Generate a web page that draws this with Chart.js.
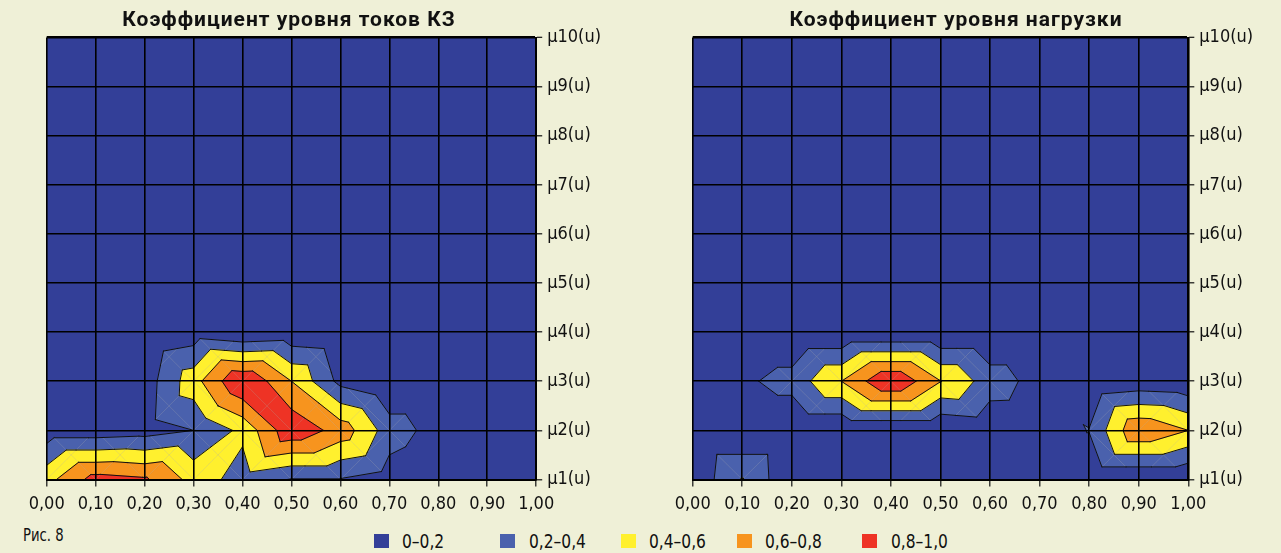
<!DOCTYPE html>
<html>
<head>
<meta charset="utf-8">
<script src="https://cdn.jsdelivr.net/npm/chart.js@4.4.1/dist/chart.umd.min.js"></script>
<style>
  html, body { margin: 0; padding: 0; background: #eff0d7; }
  #wrap { position: relative; width: 1281px; height: 553px; overflow: hidden; background: #eff0d7;
          font-family: "Liberation Sans Narrow", "DejaVu Sans Condensed", Roboto, sans-serif; color: #111; }
  canvas { position: absolute; top: 0; }
  #c1 { left: 0; }
  #c2 { left: 640px; }
  .title { position: absolute; top: 9px; width: 400px; text-align: center; font: bold 21px Roboto, sans-serif;
           letter-spacing: 1px; line-height: 21px; color: #111; white-space: nowrap; }
  #fig { position: absolute; left: 23px; top: 527px; font-size: 17.5px; line-height: 17.5px;
         transform: scaleX(0.84); transform-origin: left center; white-space: nowrap; }
  .lg-box { position: absolute; top: 533.5px; width: 15px; height: 14px; }
  .lg-text { position: absolute; top: 531px; font-size: 20px; line-height: 20px; white-space: nowrap;
             transform: scaleX(0.86); transform-origin: left center; }
</style>
</head>
<body>
<div id="wrap">
  <canvas id="c1" width="640" height="520"></canvas>
  <canvas id="c2" width="641" height="520"></canvas>
  <div class="title" style="left:89px">Коэффициент уровня токов КЗ</div>
  <div class="title" style="left:756px">Коэффициент уровня нагрузки</div>
  <div id="fig">Рис. 8</div>
  <div id="legend"></div>
</div>
<script>
// Axis grid: x positions and membership-function indices
const xValues = [0, 0.1, 0.2, 0.3, 0.4, 0.5, 0.6, 0.7, 0.8, 0.9, 1.0];
const muValues = [1, 2, 3, 4, 5, 6, 7, 8, 9, 10];

// Contour levels and colour bands
const levels = [0.2, 0.4, 0.6, 0.8];
const bandLabels = ['0–0,2', '0,2–0,4', '0,4–0,6', '0,6–0,8', '0,8–1,0'];
const bandColors = ['#333f98', '#4a61ad', '#fff02e', '#f7941e', '#ee3325'];
const legendX = [373.5, 500, 620.5, 736.7, 862.4];

// Коэффициент уровня токов КЗ: one row per μ level, one value per x
const kzMu1  = [0.53, 0.88, 0.83, 0.53, 0.30, 0.19, 0.19, 0.10, 0, 0, 0];
const kzMu2  = [0.08, 0.08, 0.11, 0.20, 0.45, 0.95, 0.72, 0.30, 0.12, 0, 0];
const kzMu3  = [0, 0, 0.09, 0.52, 1.00, 0.60, 0.14, 0, 0, 0, 0];
const kzMu4  = [0, 0, 0, 0.08, 0, 0.04, 0, 0, 0, 0, 0];
const kzMu5  = [0, 0, 0, 0, 0, 0, 0, 0, 0, 0, 0];
const kzMu6  = [0, 0, 0, 0, 0, 0, 0, 0, 0, 0, 0];
const kzMu7  = [0, 0, 0, 0, 0, 0, 0, 0, 0, 0, 0];
const kzMu8  = [0, 0, 0, 0, 0, 0, 0, 0, 0, 0, 0];
const kzMu9  = [0, 0, 0, 0, 0, 0, 0, 0, 0, 0, 0];
const kzMu10 = [0, 0, 0, 0, 0, 0, 0, 0, 0, 0, 0];

// Коэффициент уровня нагрузки
const loadMu1  = [0.04, 0.41, 0.02, 0, 0, 0, 0, 0, 0, 0, 0];
const loadMu2  = [0, 0, 0, 0, 0, 0, 0.05, 0.04, 0.21, 0.78, 0.60];
const loadMu3  = [0, 0.16, 0.28, 0.60, 1.00, 0.605, 0.30, 0.125, 0, 0.06, 0.03];
const loadMu4  = [0, 0, 0, 0, 0, 0, 0, 0, 0, 0, 0];
const loadMu5  = [0, 0, 0, 0, 0, 0, 0, 0, 0, 0, 0];
const loadMu6  = [0, 0, 0, 0, 0, 0, 0, 0, 0, 0, 0];
const loadMu7  = [0, 0, 0, 0, 0, 0, 0, 0, 0, 0, 0];
const loadMu8  = [0, 0, 0, 0, 0, 0, 0, 0, 0, 0, 0];
const loadMu9  = [0, 0, 0, 0, 0, 0, 0, 0, 0, 0, 0];
const loadMu10 = [0, 0, 0, 0, 0, 0, 0, 0, 0, 0, 0];

const kzRows = [kzMu1, kzMu2, kzMu3, kzMu4, kzMu5, kzMu6, kzMu7, kzMu8, kzMu9, kzMu10];
const loadRows = [loadMu1, loadMu2, loadMu3, loadMu4, loadMu5, loadMu6, loadMu7, loadMu8, loadMu9, loadMu10];

const tickFont = '"Liberation Sans Narrow", "DejaVu Sans Condensed", Roboto, sans-serif';

// Split every grid cell into four triangles meeting at the cell centre.
// The centre takes the larger of the two diagonal means, so ridges stay connected.
function buildTriangles(rows) {
  const tris = [];
  const v = (i, j) => ({ x: xValues[i], y: muValues[j], z: rows[j][i] });
  for (let j = 0; j < muValues.length - 1; j++) {
    for (let i = 0; i < xValues.length - 1; i++) {
      const p00 = v(i, j), p10 = v(i + 1, j), p01 = v(i, j + 1), p11 = v(i + 1, j + 1);
      const cz = Math.max((p00.z + p11.z) / 2, (p10.z + p01.z) / 2);
      const c = { x: (p00.x + p10.x) / 2, y: (p00.y + p01.y) / 2, z: cz };
      tris.push([p00, p10, c], [p10, p11, c], [p11, p01, c], [p01, p00, c]);
    }
  }
  return tris;
}

function lerp(a, b, t) {
  return { x: a.x + t * (b.x - a.x), y: a.y + t * (b.y - a.y), z: a.z + t * (b.z - a.z) };
}

// Part of a polygon where the interpolated value is >= L
function clipAbove(poly, L) {
  const out = [];
  for (let i = 0; i < poly.length; i++) {
    const a = poly[i], b = poly[(i + 1) % poly.length];
    const ain = a.z >= L, bin = b.z >= L;
    if (ain) out.push(a);
    if (ain !== bin) out.push(lerp(a, b, (L - a.z) / (b.z - a.z)));
  }
  return out;
}

function makeContourPlugin(rows) {
  const tris = buildTriangles(rows);
  return {
    id: 'contourFill',
    beforeDraw(chart) {
      const { ctx, chartArea: a } = chart;
      const xs = chart.scales.x, ys = chart.scales.y;
      const P = p => [xs.getPixelForValue(p.x), ys.getPixelForValue(p.y)];
      ctx.save();
      ctx.beginPath();
      ctx.rect(a.left, a.top, a.right - a.left, a.bottom - a.top);
      ctx.clip();

      // base band
      ctx.beginPath();
      tris.forEach(t => {
        t.forEach((p, k) => { const [px, py] = P(p); k ? ctx.lineTo(px, py) : ctx.moveTo(px, py); });
        ctx.closePath();
      });
      ctx.fillStyle = bandColors[0];
      ctx.fill();

      // nested bands above each level
      levels.forEach((L, k) => {
        ctx.beginPath();
        tris.forEach(t => {
          const poly = clipAbove(t, L);
          if (poly.length < 3) return;
          poly.forEach((p, n) => { const [px, py] = P(p); n ? ctx.lineTo(px, py) : ctx.moveTo(px, py); });
          ctx.closePath();
        });
        ctx.fillStyle = bandColors[k + 1];
        ctx.strokeStyle = bandColors[k + 1];
        ctx.lineWidth = 0.8;
        ctx.lineJoin = 'round';
        ctx.fill();
        ctx.stroke();
      });

      // faint triangulation seams inside the coloured areas
      ctx.beginPath();
      tris.forEach(t => {
        const s = t[0], e = t[2], lo = levels[0];
        let t0 = 0, t1 = 1;
        if (s.z < lo && e.z < lo) return;
        if (s.z < lo) t0 = (lo - s.z) / (e.z - s.z);
        if (e.z < lo) t1 = (lo - s.z) / (e.z - s.z);
        const [ax, ay] = P(lerp(s, e, t0)), [bx, by] = P(lerp(s, e, t1));
        ctx.moveTo(ax, ay); ctx.lineTo(bx, by);
      });
      ctx.strokeStyle = 'rgba(175,175,175,0.45)';
      ctx.lineWidth = 0.6;
      ctx.stroke();

      // contour lines
      ctx.beginPath();
      tris.forEach(t => {
        levels.forEach(L => {
          const pts = [];
          for (let e = 0; e < 3; e++) {
            const p = t[e], q = t[(e + 1) % 3];
            if ((p.z >= L) !== (q.z >= L)) pts.push(lerp(p, q, (L - p.z) / (q.z - p.z)));
          }
          if (pts.length === 2) {
            const [ax, ay] = P(pts[0]), [bx, by] = P(pts[1]);
            ctx.moveTo(ax, ay); ctx.lineTo(bx, by);
          }
        });
      });
      ctx.strokeStyle = '#111';
      ctx.lineWidth = 1;
      ctx.lineJoin = 'round';
      ctx.lineCap = 'round';
      ctx.stroke();
      ctx.restore();
    }
  };
}

function makeChart(canvasId, rows, padLeft, padRight) {
  const edgeWidth = (max) => c => (c.tick && c.tick.value === max ? 2.6 : 1.6);
  return new Chart(document.getElementById(canvasId), {
    type: 'scatter',
    data: { datasets: [{ data: [], pointRadius: 0 }] },
    options: {
      responsive: false,
      animation: false,
      events: [],
      layout: { padding: { left: padLeft, right: padRight, top: 37.5, bottom: 0 } },
      plugins: { legend: { display: false }, tooltip: { enabled: false }, title: { display: false } },
      scales: {
        x: {
          type: 'linear', position: 'bottom', min: 0, max: 1,
          ticks: {
            stepSize: 0.1, autoSkip: false, maxRotation: 0, padding: 7, color: '#111',
            font: { family: tickFont, size: 18 },
            callback: v => v.toFixed(2).replace('.', ',')
          },
          grid: { color: '#000', lineWidth: 1.6, tickLength: 7, tickColor: '#111', tickWidth: 1.2 },
          border: { color: '#000', width: 2 },
          afterFit: s => { s.height = 40.5; }
        },
        y: {
          type: 'linear', position: 'right', min: 1, max: 10,
          ticks: {
            stepSize: 1, padding: 5, color: '#111',
            font: { family: tickFont, size: 18 },
            callback: v => 'μ' + v + '(u)'
          },
          grid: { color: '#000', lineWidth: edgeWidth(10), tickLength: 6, tickColor: '#111', tickWidth: 1.2 },
          border: { color: '#000', width: 2 },
          afterFit: s => { s.width = 70; }
        }
      }
    },
    plugins: [makeContourPlugin(rows)]
  });
}

makeChart('c1', kzRows, 46.7, 33.8);
makeChart('c2', loadRows, 52.7, 22.7);

// shared legend
const legend = document.getElementById('legend');
bandLabels.forEach((label, k) => {
  const box = document.createElement('div');
  box.className = 'lg-box';
  box.style.left = legendX[k] + 'px';
  box.style.background = bandColors[k];
  legend.appendChild(box);
  const txt = document.createElement('div');
  txt.className = 'lg-text';
  txt.style.left = (legendX[k] + 28.5) + 'px';
  txt.textContent = label;
  legend.appendChild(txt);
});
</script>
</body>
</html>
